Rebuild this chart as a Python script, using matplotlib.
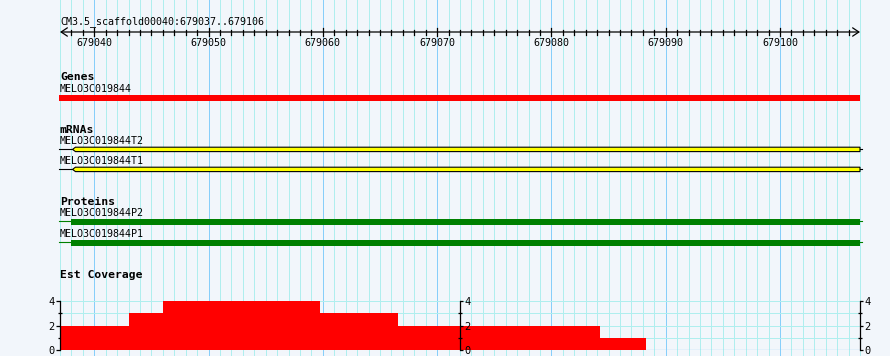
import matplotlib
matplotlib.use("Agg")
import matplotlib.pyplot as plt
from matplotlib.ticker import FixedLocator

# Region shown
REF_NAME = "CM3.5_scaffold00040"
REGION_START = 679037
REGION_END = 679107   # one past the last base (679106)
RULER_MAJOR = [679040, 679050, 679060, 679070, 679080, 679090, 679100]

# Features (start, end in bp)
gene_name = "MELO3C019844"
gene_span = (679036.9, 679107)

mrna_names = ["MELO3C019844T2", "MELO3C019844T1"]
mrna_starts = [679038.1, 679038.1]
mrna_ends = [679107, 679107]

protein_names = ["MELO3C019844P2", "MELO3C019844P1"]
protein_starts = [679038, 679038]
protein_ends = [679107, 679107]

# Est coverage step function
cov_edges = [679037, 679043, 679046, 679059.75, 679066.55, 679084.25, 679088.25]
cov_values = [2, 3, 4, 3, 2, 1]

# Colours
BG = "#f2f6fb"
MINOR_GRID = "#afeeee"
MAJOR_GRID = "#87cefa"
MONO = "DejaVu Sans Mono"

W, H = 890, 356
LEFT_PX, RIGHT_PX = 60, 860
ppb = (RIGHT_PX - LEFT_PX) / (REGION_END - REGION_START)

fig = plt.figure(figsize=(W / 100, H / 100), dpi=100)
fig.patch.set_facecolor(BG)

# main axes: x in bp, y in pixels from the top
ax = fig.add_axes([0, 0, 1, 1])
ax.set_xlim(REGION_START - LEFT_PX / ppb, REGION_START + (W - LEFT_PX) / ppb)
ax.set_ylim(H, 0)
ax.axis("off")
ax.set_facecolor(BG)

# vertical grid, one line per base, darker every 10
for bp in range(REGION_START, REGION_END + 1):
    col = MAJOR_GRID if bp % 10 == 0 else MINOR_GRID
    ax.axvline(bp, color=col, lw=0.72, zorder=0)

# ruler
ax.text(REGION_START, 24.5, f"{REF_NAME}:{REGION_START}..{REGION_END - 1}",
        family=MONO, fontsize=7.2, va="baseline", ha="left")
ax.annotate("", xy=(REGION_START, 32), xytext=(REGION_END, 32),
            arrowprops=dict(arrowstyle="<->,head_length=0.45,head_width=0.3",
                            lw=0.9, color="black", shrinkA=0, shrinkB=0))
for bp in range(REGION_START + 1, REGION_END):
    if bp in RULER_MAJOR:
        ax.plot([bp, bp], [28, 36], color="black", lw=0.9)
        ax.text(bp, 45.5, str(bp), family=MONO, fontsize=7.2,
                ha="center", va="baseline")
    else:
        ax.plot([bp, bp], [30, 34.5], color="black", lw=0.9)

# Genes track
ax.text(REGION_START, 80, "Genes", family=MONO, fontsize=8.2,
        fontweight="bold", va="baseline")
ax.text(REGION_START, 91.7, gene_name, family=MONO, fontsize=7.2, va="baseline")
ax.barh(98, gene_span[1] - gene_span[0], left=gene_span[0], height=6,
        color="#ff0000", zorder=3)

# mRNAs track
ax.text(REGION_START, 132.7, "mRNAs", family=MONO, fontsize=8.2,
        fontweight="bold", va="baseline")
mrna_label_y = [144, 164]
mrna_bar_y = [149.4, 169.4]
for name, s, e, ly, by in zip(mrna_names, mrna_starts, mrna_ends,
                              mrna_label_y, mrna_bar_y):
    ax.text(REGION_START, ly, name, family=MONO, fontsize=7.2, va="baseline")
    ax.plot([gene_span[0], e + 0.15], [by, by], color="black", lw=0.8, zorder=2)
    ax.fill([s, s + 0.25, e, e, s + 0.25], [by, by - 2.2, by - 2.2, by + 2.2, by + 2.2],
            facecolor="#ffff00", edgecolor="black", lw=0.8, zorder=3)

# Proteins track
ax.text(REGION_START, 205, "Proteins", family=MONO, fontsize=8.2,
        fontweight="bold", va="baseline")
prot_label_y = [216, 237.3]
prot_bar_y = [222, 243]
for name, s, e, ly, by in zip(protein_names, protein_starts, protein_ends,
                              prot_label_y, prot_bar_y):
    ax.text(REGION_START, ly, name, family=MONO, fontsize=7.2, va="baseline")
    ax.plot([gene_span[0], e + 0.15], [by - 0.7, by - 0.7], color="#008000",
            lw=0.8, zorder=2)
    ax.barh(by, e - s, left=s, height=6, color="#008000", zorder=3)

# Est Coverage track
ax.text(REGION_START, 277.7, "Est Coverage", family=MONO, fontsize=8.2,
        fontweight="bold", va="baseline")

cax = fig.add_axes([LEFT_PX / W, (H - 350) / H, (RIGHT_PX - LEFT_PX) / W, 49 / H])
cax.patch.set_alpha(0)
cax.set_xlim(REGION_START, REGION_END)
cax.set_ylim(0, 4)
cax.set_axisbelow(True)
for s in ["top", "right", "bottom"]:
    cax.spines[s].set_visible(False)
cax.spines["left"].set_linewidth(0.9)
cax.spines["left"].set_zorder(5)
cax.set_xticks([])
cax.set_yticks([0, 2, 4])
cax.yaxis.set_minor_locator(FixedLocator([1, 3]))
cax.grid(axis="y", which="both", color=MINOR_GRID, lw=0.72)
cax.axhline(0, color=MAJOR_GRID, lw=0.9, zorder=0.6)
cax.tick_params(axis="y", which="major", length=3, width=0.9, pad=1,
                labelsize=7.5)
cax.tick_params(axis="y", which="minor", length=3, width=0.9, direction="inout")
for lab in cax.get_yticklabels():
    lab.set_family(MONO)
cax.stairs(cov_values, cov_edges, fill=True, color="#ff0000", zorder=1)

for loc in [0.5, 1.0]:
    sec = cax.secondary_yaxis(loc)
    sec.set_zorder(10)
    sec.set_yticks([0, 2, 4])
    sec.yaxis.set_minor_locator(FixedLocator([1, 3]))
    sec.spines["right"].set_linewidth(0.9)
    sec.tick_params(axis="y", which="major", length=2, width=0.9, pad=1,
                    labelsize=7.5)
    sec.tick_params(axis="y", which="minor", length=3, width=0.9,
                    direction="inout")
    for lab in sec.get_yticklabels():
        lab.set_family(MONO)

fig.savefig("out.png", dpi=100, facecolor=BG)
